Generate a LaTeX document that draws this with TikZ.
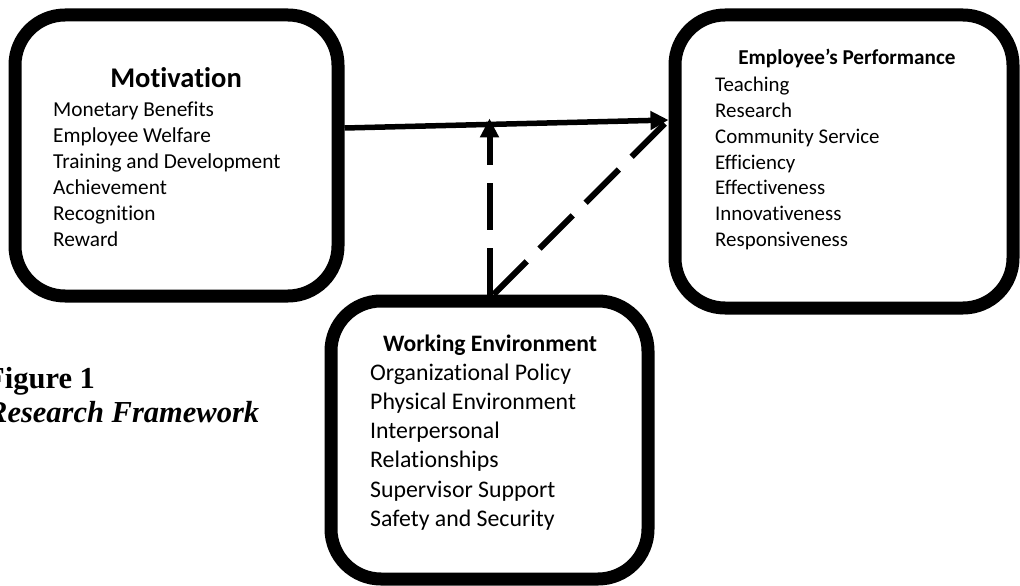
\documentclass[tikz,border=0pt]{standalone}
\usepackage{fontspec}
\setmainfont{Carlito}[Ligatures=NoCommon]
\newfontfamily\capfont{Liberation Serif}
\usetikzlibrary{arrows.meta,calc}

\begin{document}
\begin{tikzpicture}[x=1pt,y=-1pt,
  panel/.style={draw, line width=13pt, rounded corners=50pt, inner sep=0pt},
  boxtitle/.style={anchor=base, inner sep=0pt, font=\bfseries\fontsize{#1}{#1}\selectfont},
  boxlist/.style={anchor=base west, inner sep=0pt},
  caption/.style={anchor=base west, inner sep=0pt, font=\capfont\bfseries\fontsize{30.5}{34}\selectfont},
  link/.style={line width=5.5pt, -{Triangle[length=18pt,width=18pt]}},
  dashlink/.style={line width=6pt, dash pattern=on 47pt off 18pt}
]
\useasboundingbox (0,0) rectangle (1020,586);

% the three construct panels
\node[panel, minimum width=323pt, minimum height=281pt] (mot) at (176.5,155.5) {};
\node[panel, minimum width=338pt, minimum height=293pt] (emp) at (844,161.5) {};
\node[panel, minimum width=317pt, minimum height=278pt] (we)  at (489.5,440) {};

% Motivation
\node[boxtitle=28.5] (motT) at (176,88) {Motivation};
\node[boxlist] (motL) at (53,116.7) {\fontsize{21.3}{26}\selectfont
  \begin{tabular}[t]{@{}l@{}}
  Monetary Benefits\\ Employee Welfare\\ Training and Development\\
  Achievement\\ Recognition\\ Reward
  \end{tabular}};

% Employee's Performance
\node[boxtitle=21.2] (empT) at (847,65) {Employee’s Performance};
\node[boxlist] (empL) at (715,91.7) {\fontsize{20.9}{25.8}\selectfont
  \begin{tabular}[t]{@{}l@{}}
  Teaching\\ Research\\ Community Service\\ Efficiency\\
  Effectiveness\\ Innovativeness\\ Responsiveness
  \end{tabular}};

% Working Environment
\node[boxtitle=23.6] (weT) at (490,351.7) {Working Environment};
\node[boxlist] (weL) at (370,380) {\fontsize{23.8}{29.3}\selectfont
  \begin{tabular}[t]{@{}l@{}}
  Organizational Policy\\ Physical Environment\\ Interpersonal\\
  Relationships\\ Supervisor Support\\ Safety and Security
  \end{tabular}};

% figure caption
\node[caption] (figno) at (-14,388) {Figure 1};
\node[caption, font=\capfont\bfseries\itshape\fontsize{30.5}{34}\selectfont] (figname) at (-13,422) {Research Framework};

% relationships
\coordinate (s) at ([yshift=27.5pt]mot.east);
\coordinate (e) at ([yshift=41.5pt]emp.west);
\coordinate (m) at ($(s)!0.449!(e)$);
\draw[link] (s) -- (e);
\draw[dashlink, -{Triangle[length=19pt,width=18pt]}] (we.north) -- ([yshift=6pt]we.north |- m);
\draw[dashlink, shorten >=4pt] ([xshift=4pt]we.north) -- (e);
\end{tikzpicture}
\end{document}
